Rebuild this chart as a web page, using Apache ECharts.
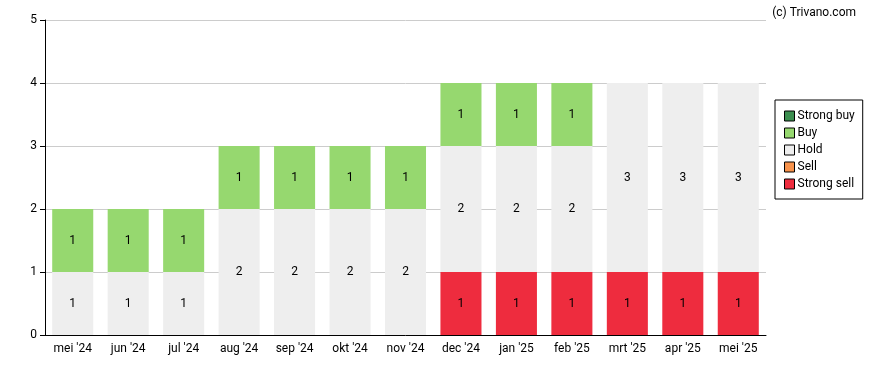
<!DOCTYPE html>
<html><head><meta charset="utf-8">
<script src="https://cdn.jsdelivr.net/npm/echarts@6/dist/echarts.min.js"></script>
<style>html,body{margin:0;padding:0;background:#fff}#c{width:888px;height:370px}</style>
</head><body><div id="c"></div>
<script>
const categories = ["mei '24","jun '24","jul '24","aug '24","sep '24","okt '24","nov '24","dec '24","jan '25","feb '25","mrt '25","apr '25","mei '25"];
const strongSell = [0,0,0,0,0,0,0,1,1,1,1,1,1];
const sell       = [0,0,0,0,0,0,0,0,0,0,0,0,0];
const hold       = [1,1,1,2,2,2,2,2,2,2,3,3,3];
const buy        = [1,1,1,1,1,1,1,1,1,1,0,0,0];
const strongBuy  = [0,0,0,0,0,0,0,0,0,0,0,0,0];
const yTicks = [0,1,2,3,4,5];

const font = 'Roboto, "Liberation Sans", sans-serif';
const chart = echarts.init(document.getElementById('c'), null, {renderer:'canvas'});
function ser(name, data, color, z){
  return {name, type:'bar', stack:'s', data: data.map(v=>v===0?null:v), barWidth:'74%',
    itemStyle:{color}, z,
    label:{show:true, position:'inside', color:'#000', fontFamily:font, fontSize:12,
      formatter:p=>p.value?String(p.value):''}};
}
chart.setOption({
  animation:false,
  textStyle:{fontFamily:font},
  grid:{left:45, right:122, top:20, bottom:35, containLabel:false},
  title:{text:'(c) Trivano.com', right:27, top:2, textStyle:{fontFamily:font, fontSize:12, fontWeight:'normal', color:'#000'}},
  legend:{orient:'vertical', left:775, top:100, width:90, padding:[10,8,9,9],
    borderColor:'#000', borderWidth:1, itemWidth:10, itemHeight:10, itemGap:5,
    icon:'rect', textStyle:{fontFamily:font, fontSize:12, color:'#000', padding:[0,0,0,-2]},
    itemStyle:{borderColor:'#000', borderWidth:1},
    data:['Strong buy','Buy','Hold','Sell','Strong sell']},
  xAxis:{type:'category', data:categories,
    axisLine:{lineStyle:{color:'#000'}}, axisTick:{alignWithLabel:true, length:5, lineStyle:{color:'#000'}},
    axisLabel:{color:'#000', fontFamily:font, fontSize:12, margin:8}},
  yAxis:{type:'value', min:0, max:5, interval:1,
    axisLine:{show:true, lineStyle:{color:'#000'}}, axisTick:{show:true, length:5, lineStyle:{color:'#000'}},
    axisLabel:{color:'#000', fontFamily:font, fontSize:12, margin:8, formatter:v=>yTicks.includes(v)?String(v):''},
    splitLine:{lineStyle:{color:'#cccccc'}}},
  series:[
    ser('Strong sell', strongSell, '#EE2C3E', 2),
    ser('Sell', sell, '#F7924B', 2),
    ser('Hold', hold, '#EEEEEE', 2),
    ser('Buy', buy, '#96D86F', 2),
    ser('Strong buy', strongBuy, '#3B8E4F', 2)
  ]
});
</script></body></html>
